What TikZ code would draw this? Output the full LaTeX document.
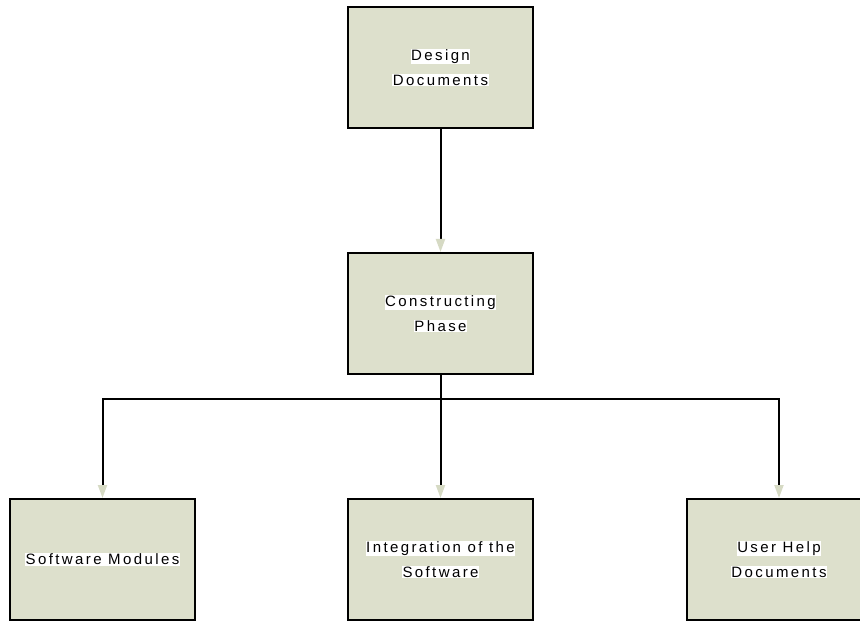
\documentclass[tikz,border=0pt]{standalone}
\usepackage{fontspec}
\setmainfont{Liberation Sans}
\newfontfamily\boxfont[LetterSpace=16]{Liberation Sans}
\usetikzlibrary{arrows.meta}
\definecolor{boxfill}{HTML}{DDE0CC}
\definecolor{tipfill}{HTML}{D6DAC4}
\newcommand\hlline[1]{{\setlength{\fboxsep}{0.6bp}\colorbox{white}{#1}}}
\tikzset{
  stage/.style={draw=black, line width=2bp, fill=boxfill, minimum width=185bp, minimum height=121bp,
    inner sep=0pt, align=center, font=\boxfont\fontsize{15bp}{25bp}\selectfont},
  conn/.style={line width=2bp, draw=black},
  arr/.style={conn, -{Triangle[length=13bp,width=9bp,color=tipfill]}}
}
\begin{document}
\begin{tikzpicture}[x=1bp,y=-1bp]
\useasboundingbox (0,0) rectangle (860,622);
\clip (0,0) rectangle (860,622);
\node[stage] (dd) at (440.5,67.5) {\hlline{Design}\\\hlline{Documents}};
\node[stage] (cp) at (440.5,313.5) {\hlline{Constructing}\\\hlline{Phase}};
\node[stage] (sm) at (102.5,559.5) {\hlline{Software Modules}};
\node[stage] (is) at (440.5,559.5) {\hlline{Integration of the}\\\hlline{Software}};
\node[stage] (uh) at (779,559.5) {\hlline{User Help}\\\hlline{Documents}};
\coordinate (j) at (440.5,399);
\draw[arr] (dd.south) -- (cp.north);
\draw[arr] (cp.south) -- (is.north);
\draw[arr] (j) -| (sm.north);
\draw[arr] (j) -| (uh.north);
\end{tikzpicture}
\end{document}
